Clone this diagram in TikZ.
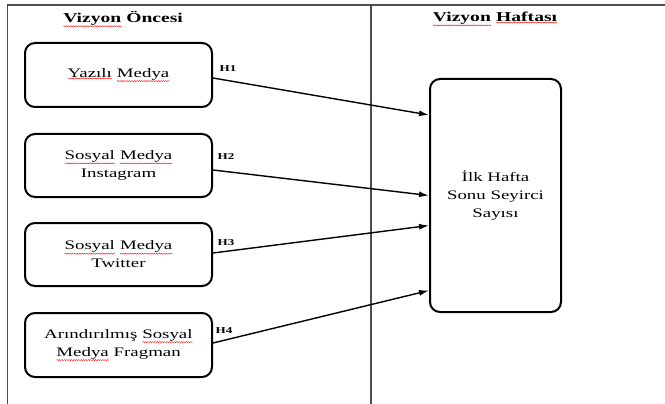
\documentclass[tikz,border=0pt]{standalone}
\usepackage{fontspec}
\setmainfont{Liberation Serif}[FakeStretch=1.45]
\usepackage{xcolor}
\usetikzlibrary{positioning,calc,arrows.meta,decorations.pathmorphing}

\newcommand{\spell}[1]{\tikz[baseline=(w.base)]{\node[draw=none, fill=none, inner sep=0pt, outer sep=0pt,
        minimum width=0pt, minimum height=0pt, rounded corners=0pt] (w) {#1};
    \draw[red, line width=0.4pt, rounded corners=0pt, decorate, decoration={snake, amplitude=0.5pt, segment length=2.4pt}]
        ([yshift=-1pt]w.south west) -- ([yshift=-1pt]w.south east);}}

\begin{document}
\begin{tikzpicture}[x=1pt,y=-1pt,
    kutu/.style={draw, line width=2pt, rounded corners=10pt, align=center,
        font=\fontsize{13}{18}\selectfont},
    baslik/.style={font=\fontsize{13.5}{16}\selectfont\bfseries},
    hlabel/.style={font=\fontsize{9}{10}\selectfont\bfseries},
    ok/.style={line width=1.4pt, -{Latex[length=10pt,width=6pt]}}]
    \useasboundingbox (0,0) rectangle (665,404);

    % frame
    \draw[gray!60!black, line width=1.2pt] (7,5) -- (665,5);
    \draw[gray!60!black, line width=0.9pt] (7,5) -- (7,404);
    \draw[gray!60!black, line width=2.6pt] (371,5) -- (371,404);

    \node[baslik] (oncesi) at (123,19) {\spell{Vizyon} Öncesi};
    \node[baslik] (haftasi) at (495,19) {\spell{Vizyon} \spell{Haftası}};

    \node[kutu, minimum width=187pt, minimum height=64pt] (yazili) at (118.5,75) {\spell{Yazılı} \spell{Medya}};
    \node[kutu, minimum width=187pt, minimum height=63pt] (instagram) at (118.5,165.5) {\spell{Sosyal} \spell{Medya}\\Instagram};
    \node[kutu, minimum width=187pt, minimum height=63pt] (twitter) at (118.5,254.5) {\spell{Sosyal} \spell{Medya}\\Twitter};
    \node[kutu, minimum width=187pt, minimum height=64pt] (fragman) at (118.5,345) {Arındırılmış \spell{Sosyal}\\\spell{Medya} Fragman};

    \node[kutu, minimum width=131pt, minimum height=233pt] (seyirci) at (495.5,195.5) {İlk Hafta\\Sonu Seyirci\\Sayısı};

    \draw[ok] ($(yazili.east)+(0,3)$) -- ($(seyirci.west)+(0,-80.5)$);
    \draw[ok] ($(instagram.east)+(0,4.5)$) -- ($(seyirci.west)+(0,0)$);
    \draw[ok] ($(twitter.east)+(0,-1.5)$) -- ($(seyirci.west)+(0,30)$);
    \draw[ok] ($(fragman.east)+(0,-2)$) -- ($(seyirci.west)+(0,95)$);

    \node[hlabel] (h1) at (228,69) {H1};
    \node[hlabel] (h2) at (226,157) {H2};
    \node[hlabel] (h3) at (226,243) {H3};
    \node[hlabel] (h4) at (224,331) {H4};
\end{tikzpicture}
\end{document}
